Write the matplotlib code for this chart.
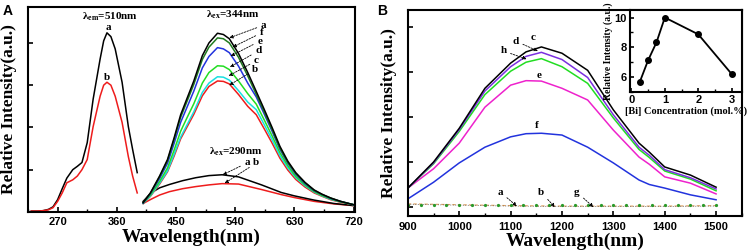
import matplotlib
matplotlib.use("Agg")
import matplotlib.pyplot as plt
from matplotlib.ticker import MultipleLocator, NullFormatter

plt.rcParams.update({
    "font.family": "sans-serif",
    "font.sans-serif": ["Liberation Sans", "DejaVu Sans"],
    "mathtext.fontset": "custom",
    "mathtext.rm": "Liberation Serif:bold",
    "mathtext.it": "Liberation Serif:bold:italic",
    "mathtext.bf": "Liberation Serif:bold",
    "xtick.direction": "in",
    "ytick.direction": "in",
    "lines.solid_joinstyle": "round",
})

SERIF = "Liberation Serif"

# ---- panel A: excitation spectra (lambda_em = 510 nm) ----
exc_wl = [230, 240, 248, 256, 263, 270, 277, 284, 293, 300, 307, 315, 324, 334.6,
          340, 345, 351, 357.5, 368, 377.5, 384, 391]
exc_a = [0.02, 0.02, 0.03, 0.06, 0.12, 0.29, 0.55, 0.80, 1.00, 1.08, 1.17, 1.64, 2.67,
         3.62, 4.05, 4.24, 4.15, 3.86, 3.07, 2.02, 1.48, 0.93]
exc_b = [0.02, 0.02, 0.03, 0.05, 0.10, 0.25, 0.45, 0.69, 0.76, 0.85, 1.00, 1.24, 2.02,
         2.74, 3.00, 3.07, 3.00, 2.74, 2.12, 1.31, 0.85, 0.45]

# ---- panel A: emission spectra (lambda_ex = 344 nm) ----
em_wl = [400, 411, 425, 437, 447, 457, 467, 477, 490, 500, 513, 522, 531, 545, 559,
         572, 584, 596, 608, 620, 632, 646, 660, 672, 685, 700, 720]
em344_a = [0.22, 0.45, 0.85, 1.24, 1.75, 2.30, 2.70, 3.10, 3.70, 4.00, 4.23, 4.20, 4.10,
           3.75, 3.30, 2.85, 2.43, 2.00, 1.55, 1.20, 0.93, 0.70, 0.52, 0.42, 0.33, 0.25, 0.17]
em344_f = [0.22, 0.44, 0.83, 1.21, 1.71, 2.24, 2.63, 3.02, 3.61, 3.90, 4.12, 4.10, 4.00,
           3.66, 3.22, 2.78, 2.37, 1.95, 1.51, 1.17, 0.91, 0.69, 0.51, 0.41, 0.33, 0.25, 0.17]
em344_e = [0.21, 0.43, 0.79, 1.15, 1.62, 2.12, 2.49, 2.86, 3.41, 3.68, 3.89, 3.86, 3.77,
           3.45, 3.05, 2.72, 2.32, 1.91, 1.48, 1.15, 0.89, 0.67, 0.50, 0.41, 0.32, 0.25, 0.17]
em344_d = [0.21, 0.40, 0.72, 1.04, 1.46, 1.91, 2.24, 2.56, 3.05, 3.30, 3.46, 3.45, 3.37,
           3.10, 2.80, 2.55, 2.18, 1.80, 1.40, 1.09, 0.84, 0.64, 0.48, 0.39, 0.31, 0.24, 0.17]
em344_c = [0.20, 0.38, 0.68, 0.97, 1.36, 1.77, 2.07, 2.37, 2.83, 3.05, 3.20, 3.19, 3.12,
           2.87, 2.60, 2.42, 2.07, 1.71, 1.33, 1.04, 0.81, 0.62, 0.47, 0.38, 0.30, 0.24, 0.17]
em344_b = [0.20, 0.37, 0.66, 0.95, 1.32, 1.73, 2.02, 2.31, 2.75, 2.97, 3.10, 3.09, 3.03,
           2.78, 2.50, 2.30, 1.97, 1.63, 1.27, 0.99, 0.77, 0.59, 0.45, 0.37, 0.29, 0.23, 0.17]

# ---- panel A: emission spectra (lambda_ex = 290 nm) ----
em290_wl = [400, 412, 425, 440, 460, 480, 500, 520, 545, 580, 610, 630, 660, 690, 720]
em290_a = [0.25, 0.45, 0.57, 0.65, 0.74, 0.81, 0.86, 0.88, 0.83, 0.64, 0.46, 0.38, 0.28, 0.20, 0.15]
em290_b = [0.20, 0.30, 0.40, 0.48, 0.55, 0.60, 0.64, 0.67, 0.66, 0.53, 0.41, 0.34, 0.25, 0.19, 0.15]

# ---- panel B: NIR emission ----
nir_wl = [900, 950, 1000, 1050, 1100, 1130, 1160, 1200, 1250, 1300, 1350, 1370, 1400, 1450, 1500]
nir_c = [0.42, 1.00, 1.75, 2.64, 3.20, 3.45, 3.56, 3.42, 3.04, 2.16, 1.42, 1.22, 0.89, 0.71, 0.44]
nir_d = [0.42, 0.98, 1.72, 2.58, 3.12, 3.35, 3.44, 3.28, 2.88, 2.05, 1.33, 1.15, 0.83, 0.65, 0.40]
nir_h = [0.42, 0.96, 1.68, 2.50, 3.02, 3.22, 3.30, 3.12, 2.75, 1.98, 1.28, 1.10, 0.80, 0.62, 0.36]
nir_e = [0.42, 0.85, 1.42, 2.22, 2.71, 2.81, 2.80, 2.64, 2.38, 1.71, 1.11, 0.95, 0.67, 0.53, 0.29]
nir_f = [0.18, 0.55, 0.98, 1.33, 1.56, 1.63, 1.64, 1.60, 1.33, 0.98, 0.60, 0.50, 0.42, 0.27, 0.16]
base_wl = [900, 1000, 1100, 1200, 1300, 1400, 1500]
base_a = [0.07, 0.05, 0.03, 0.02, 0.02, 0.02, 0.03]
base_b = [0.06, 0.04, 0.02, 0.01, 0.01, 0.01, 0.02]
dots_wl = [900, 925, 950, 975, 1000, 1025, 1050, 1075, 1100, 1125, 1150, 1175, 1200,
           1225, 1250, 1275, 1300, 1325, 1350, 1375, 1400, 1425, 1450, 1475, 1500]
dots_g = [0.05] * len(dots_wl)

# ---- inset ----
bi_conc = [0.25, 0.5, 0.75, 1, 2, 3]
bi_int = [5.67, 7.13, 8.33, 10.0, 8.87, 6.2]

BLACK = "#000000"
RED = "#ee1c1c"
DKGREEN = "#1f7a1f"
BLUE = "#2233dd"
GREEN = "#22dd22"
CYAN = "#18e0e0"
PURPLE = "#7b2fe0"
MAGENTA = "#ee22cc"


def frame(ax):
    for s in ax.spines.values():
        s.set_linewidth(1.5)
    ax.tick_params(which="major", length=3.5, width=1.2, labelsize=8, pad=4)
    ax.tick_params(which="minor", length=2.5, width=1.0)
    for lab in ax.get_xticklabels() + ax.get_yticklabels():
        lab.set_fontweight("bold")


def tag(ax, text, xy, xytext, size=8):
    arrow = dict(arrowstyle="-|>", linestyle=(0, (2, 1.5)), lw=0.6, color="k",
                 mutation_scale=5, shrinkA=1, shrinkB=0)
    ax.annotate(text, xy=xy, xytext=xytext, fontsize=size, family=SERIF,
                fontweight="bold", ha="center", va="center", arrowprops=arrow)


def label(ax, text, x, y, size=8):
    ax.text(x, y, text, fontsize=size, family=SERIF, fontweight="bold",
            ha="center", va="center")


fig = plt.figure(figsize=(7.47, 2.52), dpi=100)

# ================= panel A =================
axA = fig.add_axes([0.0375, 0.159, 0.4377, 0.813])
lw = 1.1
axA.plot(exc_wl, exc_a, color=BLACK, lw=lw)
axA.plot(exc_wl, exc_b, color=RED, lw=lw)
axA.plot(em290_wl, em290_b, color=RED, lw=lw)
axA.plot(em290_wl, em290_a, color=BLACK, lw=lw)
axA.plot(em_wl, em344_b, color=RED, lw=lw)
axA.plot(em_wl, em344_c, color=CYAN, lw=lw)
axA.plot(em_wl, em344_d, color=GREEN, lw=lw)
axA.plot(em_wl, em344_e, color=BLUE, lw=lw)
axA.plot(em_wl, em344_f, color=DKGREEN, lw=lw)
axA.plot(em_wl, em344_a, color=BLACK, lw=lw)

axA.set_xlim(225, 722)
axA.set_ylim(0, 4.85)
axA.set_xticks([270, 360, 450, 540, 630, 720])
axA.xaxis.set_minor_locator(MultipleLocator(45))
axA.set_yticks([1, 2, 3, 4])
axA.yaxis.set_major_formatter(NullFormatter())
frame(axA)

label(axA, "λ$_{\\rm em}$=510nm", 350, 4.62)
label(axA, "a", 347, 4.36)
label(axA, "b", 345, 3.19)
label(axA, "λ$_{\\rm ex}$=344nm", 536, 4.66)
for t, xt, yt, xa, ya in [("a", 583, 4.42, 531, 4.12), ("f", 580, 4.24, 536, 3.90),
                          ("e", 577, 4.04, 533, 3.69), ("d", 575, 3.81, 532, 3.43),
                          ("c", 572, 3.58, 530, 3.22), ("b", 570, 3.37, 531, 3.00)]:
    tag(axA, t, (xa, ya), (xt, yt))
label(axA, "λ$_{\\rm ex}$=290nm", 541, 1.42)
tag(axA, "a", (521, 0.88), (558, 1.16))
tag(axA, "b", (524, 0.68), (572, 1.16))

axA.set_xlabel("Wavelength(nm)", family=SERIF, fontweight="bold", fontsize=14, labelpad=1)
axA.set_ylabel("Relative Intensity(a.u.)", family=SERIF, fontweight="bold", fontsize=12.5,
               labelpad=4)
fig.text(0.004, 0.985, "A", fontsize=10, fontweight="bold", va="top", ha="left")

# ================= panel B =================
axB = fig.add_axes([0.546, 0.143, 0.447, 0.817])
axB.plot(nir_wl, nir_f, color=BLUE, lw=lw)
axB.plot(nir_wl, nir_e, color=MAGENTA, lw=lw)
axB.plot(nir_wl, nir_h, color=GREEN, lw=lw)
axB.plot(nir_wl, nir_d, color=PURPLE, lw=lw)
axB.plot(nir_wl, nir_c, color=BLACK, lw=lw)
axB.plot(base_wl, base_a, color="#e0a060", lw=0.8, ls=(0, (3, 2)))
axB.plot(base_wl, base_b, color="#555555", lw=0.6, ls=(0, (1, 2)))
axB.plot(dots_wl, dots_g, color="#2a9a2a", lw=0, marker="o", markersize=1.3)

axB.set_xlim(900, 1550)
axB.set_ylim(-0.2, 4.38)
axB.set_xticks([900, 1000, 1100, 1200, 1300, 1400, 1500])
axB.xaxis.set_minor_locator(MultipleLocator(50))
axB.set_yticks([0, 1, 2, 3, 4])
axB.yaxis.set_major_formatter(NullFormatter())
frame(axB)

label(axB, "c", 1143, 3.76)
tag(axB, "d", (1153, 3.47), (1110, 3.69))
tag(axB, "h", (1131, 3.29), (1086, 3.47))
label(axB, "e", 1155, 2.93)
label(axB, "f", 1151, 1.82)
tag(axB, "a", (1112, 0.02), (1080, 0.33))
tag(axB, "b", (1186, 0.0), (1159, 0.33))
tag(axB, "g", (1261, 0.0), (1229, 0.33))

axB.set_xlabel("Wavelength(nm)", family=SERIF, fontweight="bold", fontsize=14, labelpad=1)
axB.set_ylabel("Relative Intensity(a.u.)", family=SERIF, fontweight="bold", fontsize=12.5,
               labelpad=4)
fig.text(0.505, 0.985, "B", fontsize=10, fontweight="bold", va="top", ha="left")

# ---- inset ----
axI = fig.add_axes([0.843, 0.635, 0.150, 0.325])
axI.plot(bi_conc, bi_int, color=BLACK, lw=1.3, marker="o", markersize=4)
axI.set_xlim(-0.05, 3.3)
axI.set_ylim(5.0, 10.5)
axI.set_xticks([0, 1, 2, 3])
axI.set_yticks([6, 8, 10])
axI.xaxis.set_minor_locator(MultipleLocator(0.5))
axI.yaxis.set_minor_locator(MultipleLocator(1))
frame(axI)
axI.tick_params(which="major", labelsize=8, pad=2, length=3)
axI.set_xlabel("[Bi] Concentration (mol.%)", family=SERIF, fontweight="bold", fontsize=7.5,
               labelpad=1)
axI.set_ylabel("Relative Intensity (a.u.)", family=SERIF, fontweight="bold", fontsize=7,
               labelpad=1)

fig.savefig("out.png", dpi=100)
